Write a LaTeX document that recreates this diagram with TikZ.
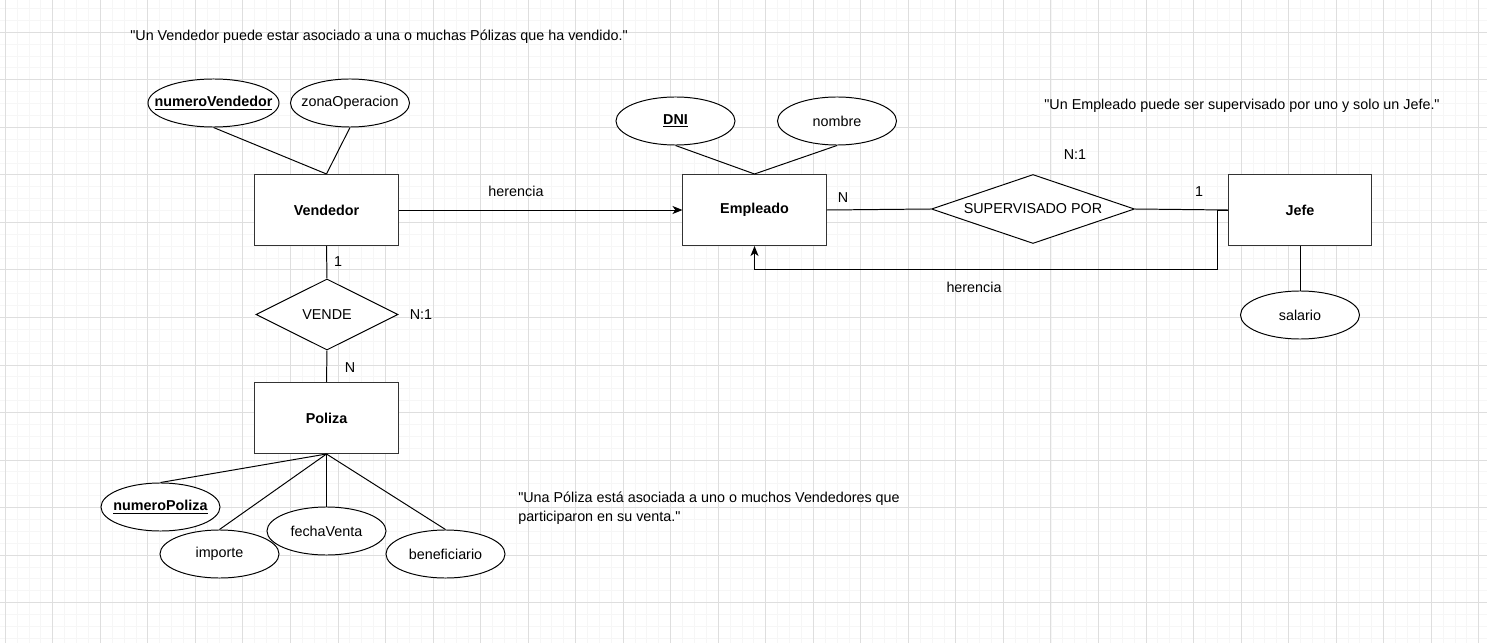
\documentclass[tikz,border=0pt]{standalone}
\usepackage{fontspec}
\setmainfont{Liberation Sans}
\usetikzlibrary{shapes.geometric,arrows.meta}
\definecolor{gridminor}{RGB}{246,246,246}
\definecolor{gridmajor}{RGB}{222,222,222}
\newcommand{\attrtxt}[1]{\makebox[0pt][c]{#1}}
\newcommand{\q}{\textquotedbl}
\tikzset{
  entity/.style={draw=black!80,line width=0.7pt,fill=white,minimum width=3.575cm,minimum height=1.775cm,font=\fontsize{10.2pt}{12pt}\selectfont\bfseries},
  attr/.style={draw,ellipse,line width=0.7pt,fill=white,inner sep=0pt,minimum width=2.975cm,minimum height=1.2cm},
  rel/.style={draw,diamond,line width=0.7pt,fill=white,inner sep=0pt},
  link/.style={line width=0.7pt},
  herencia/.style={line width=0.7pt,-{Stealth[length=0.25cm,width=0.2cm,inset=0.07cm]}},
  note/.style={inner sep=0pt}
}
\begin{document}
\begin{tikzpicture}[x=0.025cm,y=-0.025cm,font=\fontsize{10.2pt}{13.5pt}\selectfont]
                \useasboundingbox[fill=white] (0,0) rectangle (1487,643);
                % grid
                \foreach \i in {0,...,125}
                    \draw[gridminor,line width=0.7pt] ({-6.58+11.883*\i},0) -- ({-6.58+11.883*\i},643);
                \foreach \j in {0,...,54}
                    \draw[gridminor,line width=0.7pt] (0,{-3.34+11.883*\j}) -- (1487,{-3.34+11.883*\j});
                \foreach \i in {0,...,31}
                    \draw[gridmajor,line width=0.7pt] ({5.3+47.53*\i},0) -- ({5.3+47.53*\i},643);
                \foreach \j in {0,...,12}
                    \draw[gridmajor,line width=0.7pt] (0,{32.3+47.53*\j}) -- (1487,{32.3+47.53*\j});
                % entities
                \node[entity] (vend) at (326.5,210) {Vendedor};
                \node[entity] (emp) at (754.5,210) {Empleado};
                \node[entity] (jefe) at (1300,210) {Jefe};
                \node[entity] (pol) at (326.5,418) {Poliza};
                % relations
                \node[rel,minimum width=3.55cm,minimum height=1.775cm] (vende) at (327,314.5) {VENDE};
                \node[rel,aspect=2.94,minimum width=5.075cm,minimum height=1.725cm] (sup) at (1033,209) {SUPERVISADO POR};
                % attributes
                \node[attr,minimum width=3.275cm] (numV) at (213.5,103) {\attrtxt{\underline{\textbf{numeroVendedor}}}};
                \node[attr] (zona) at (350,103) {\attrtxt{zonaOperacion}};
                \node[attr] (dni) at (675.5,121) {\attrtxt{\underline{\textbf{DNI}}}};
                \node[attr] (nom) at (837,121) {\attrtxt{nombre}};
                \node[attr] (sal) at (1300,315) {\attrtxt{salario}};
                \node[attr] (numP) at (160.5,507) {\attrtxt{\underline{\textbf{numeroPoliza}}}};
                \node[attr] (imp) at (219.5,554) {\attrtxt{importe}};
                \node[attr] (fecha) at (326.5,531) {\attrtxt{fechaVenta}};
                \node[attr] (benef) at (445.5,554) {\attrtxt{beneficiario}};
                % links
                \draw[link] (numV.south) -- (vend.north);
                \draw[link] (zona.south) -- (vend.north);
                \draw[link] (dni.south) -- (emp.north);
                \draw[link] (nom.south) -- (emp.north);
                \draw[link] (jefe.south) -- (sal.north);
                \draw[link] (pol.south) -- (numP.north);
                \draw[link] (pol.south) -- (imp.north);
                \draw[link] (pol.south) -- (fecha.north);
                \draw[link] (pol.south) -- (benef.north);
                \draw[link] (vend.south) -- (vende.north);
                \draw[link] (vende.south) -- (pol.north);
                \draw[link] (emp.east) -- (sup.west);
                \draw[link] (sup.east) -- (jefe.west);
                % herencia
                \coordinate (bend) at (1217,269);
                \draw[herencia] (vend.east) -- (emp.west);
                \draw[herencia] (jefe.west) -| (bend) -| (emp.south);
                \node at (516,191) {herencia};
                \node at (974,287) {herencia};
                % cardinalities
                \node at (338,262) {1};
                \node at (350,368) {N};
                \node at (421,315) {N:1};
                \node at (843,198) {N};
                \node at (1199,192) {1};
                \node at (1075,155) {N:1};
                % notes
                \node[note] (noteV) at (379,37) {\q Un Vendedor puede estar asociado a una o muchas Pólizas que ha vendido.\q};
                \node[note] (noteE) at (1242,106) {\q Un Empleado puede ser supervisado por uno y solo un Jefe.\q};
                \node[note,anchor=west,align=left] (noteP) at (518,508.5) {\q Una Póliza está asociada a uno o muchos Vendedores que\\participaron en su venta.\q};
            \end{tikzpicture}
\end{document}
